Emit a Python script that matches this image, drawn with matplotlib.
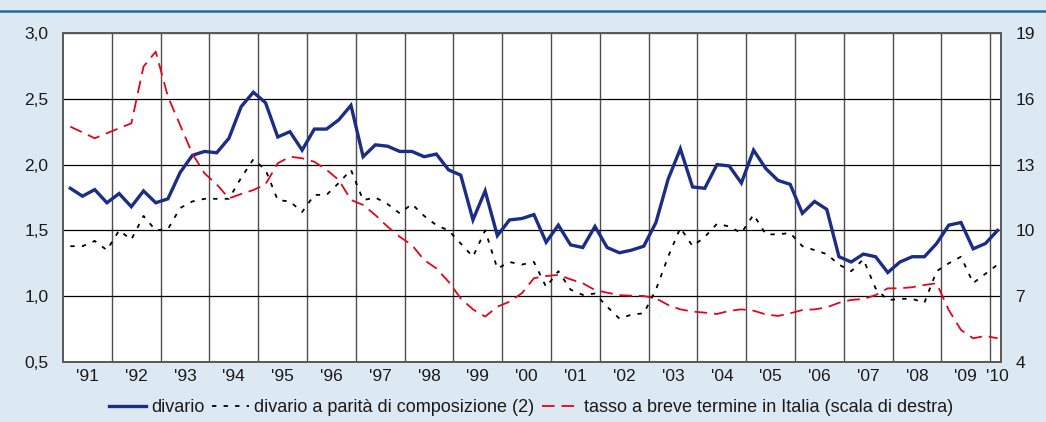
import numpy as np
import matplotlib.pyplot as plt

plt.rcParams['font.family'] = ['Liberation Sans', 'DejaVu Sans']

# quarterly data, 1991Q1 - 2010Q1
divario = [
    1.82, 1.76, 1.81, 1.71,
    1.78, 1.68, 1.80, 1.71,
    1.74, 1.94, 2.07, 2.10,
    2.09, 2.20, 2.44, 2.55,
    2.47, 2.21, 2.25, 2.11,
    2.27, 2.27, 2.34, 2.45,
    2.06, 2.15, 2.14, 2.10,
    2.10, 2.06, 2.08, 1.96,
    1.92, 1.58, 1.80, 1.46,
    1.58, 1.59, 1.62, 1.41,
    1.54, 1.39, 1.37, 1.53,
    1.37, 1.33, 1.35, 1.38,
    1.56, 1.89, 2.12, 1.83,
    1.82, 2.00, 1.99, 1.86,
    2.11, 1.97, 1.88, 1.85,
    1.63, 1.72, 1.66, 1.30,
    1.26, 1.32, 1.30, 1.18,
    1.26, 1.30, 1.30, 1.40,
    1.54, 1.56, 1.36, 1.40,
    1.50,
]

divario_parita = [
    1.38, 1.38, 1.42, 1.35,
    1.50, 1.43, 1.61, 1.50,
    1.51, 1.67, 1.72, 1.74,
    1.74, 1.74, 1.90, 2.04,
    1.96, 1.73, 1.72, 1.64,
    1.77, 1.77, 1.86, 1.96,
    1.73, 1.75, 1.70, 1.63,
    1.70, 1.61, 1.54, 1.50,
    1.40, 1.30, 1.50, 1.21,
    1.26, 1.24, 1.26, 1.07,
    1.19, 1.05, 1.01, 1.02,
    0.92, 0.83, 0.86, 0.87,
    1.05, 1.30, 1.52, 1.38,
    1.45, 1.55, 1.53, 1.48,
    1.62, 1.47, 1.47, 1.48,
    1.38, 1.35, 1.32, 1.24,
    1.19, 1.28, 1.06, 0.97,
    0.98, 0.98, 0.95, 1.19,
    1.25, 1.30, 1.10, 1.17,
    1.24,
]

tasso_breve = [
    14.73, 14.47, 14.20, 14.43,
    14.66, 14.88, 17.47, 18.15,
    16.10, 14.80, 13.50, 12.60,
    12.10, 11.46, 11.66, 11.84,
    12.10, 13.06, 13.36, 13.29,
    13.13, 12.76, 12.30, 11.39,
    11.16, 10.70, 10.17, 9.71,
    9.33, 8.65, 8.27, 7.66,
    6.90, 6.40, 6.07, 6.52,
    6.75, 7.13, 7.82, 7.92,
    7.97, 7.77, 7.59, 7.28,
    7.16, 7.05, 7.02, 7.01,
    6.90, 6.60, 6.40, 6.30,
    6.25, 6.19, 6.33, 6.40,
    6.34, 6.17, 6.10, 6.22,
    6.37, 6.40, 6.49, 6.70,
    6.83, 6.87, 7.05, 7.36,
    7.36, 7.41, 7.51, 7.59,
    6.37, 5.46, 5.08, 5.19,
    5.08,
]

years = list(range(1991, 2011))
year_labels = ["'%02d" % (y % 100) for y in years]
left_ticks = [0.5, 1.0, 1.5, 2.0, 2.5, 3.0]
right_ticks = [4, 7, 10, 13, 16, 19]

n = len(divario)
t = np.array([1991 + (i + 0.6) / 4 for i in range(n)])

BG = '#dde9f2'
BLUE = '#1c2d86'
RED = '#e3051b'
TXT = '#1a1a1a'
DOT = (2.4, 4.0)
DASH = (7, 3.8)

fig = plt.figure(figsize=(10.46, 4.22), dpi=100, facecolor=BG)
ax = fig.add_axes([63 / 1046, 1 - 362 / 422, (1001 - 63) / 1046, (362 - 33) / 422])
ax.set_facecolor('white')
ax2 = ax.twinx()

# top rule
fig.add_artist(plt.Line2D([0, 1], [1 - 10.5 / 422] * 2, color='#1d6fa3', lw=1.8))

ax.plot(t, divario, color=BLUE, lw=2.4, solid_joinstyle='miter', zorder=3)
ax.plot(t, divario_parita, color='black', lw=1.3, dashes=DOT, zorder=3)
ax2.plot(t, tasso_breve, color=RED, lw=1.3, dashes=DASH, zorder=3)

ax.set_xlim(1991, 2010.22)
ax.set_ylim(0.5, 3.0)
ax2.set_ylim(4, 19)

ax.set_xticks(years[1:])
ax.set_xticklabels([])
mids = [y + 0.5 for y in years[:-1]] + [2010.14]
ax.set_xticks(mids, minor=True)
ax.set_xticklabels(year_labels, minor=True)
ax.tick_params(axis='x', which='both', length=0, pad=5, labelsize=12.5, colors=TXT)

ax.set_yticks(left_ticks)
ax.set_yticklabels([('%.1f' % v).replace('.', ',') for v in left_ticks])
ax.tick_params(axis='y', length=0, pad=10.5, labelsize=12.5, colors=TXT)
ax2.set_yticks(right_ticks)
ax2.tick_params(axis='y', length=0, pad=10.5, labelsize=12.5, colors=TXT)

ax.grid(axis='x', which='major', color='#4d4d4d', lw=1.0)
ax.grid(axis='y', color='black', lw=0.9)
ax.set_axisbelow(True)

for a in (ax, ax2):
    for s in a.spines.values():
        s.set_color('#5a5a5a')
        s.set_linewidth(1.3)

h1 = plt.Line2D([], [], color=BLUE, lw=2.4)
h2 = plt.Line2D([], [], color='black', lw=1.3, dashes=DOT)
h3 = plt.Line2D([], [], color=RED, lw=1.3, dashes=DASH)
fig.legend([h1, h2, h3],
           ['divario', 'divario a parità di composizione (2)',
            'tasso a breve termine in Italia (scala di destra)'],
           loc='center', bbox_to_anchor=(531 / 1046, 1 - 408 / 422), ncol=3,
           frameon=False, fontsize=13, handlelength=2.05, handletextpad=0.25,
           columnspacing=0.45, labelcolor=TXT, borderpad=0)

fig.savefig('out.png', dpi=100, facecolor=BG)
